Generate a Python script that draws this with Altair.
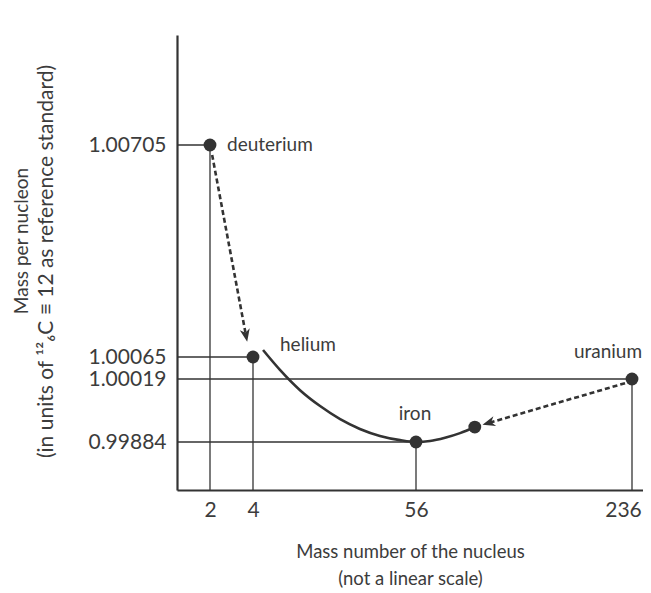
import altair as alt
import pandas as pd

# ---- data ----
names = ["deuterium", "helium", "iron", "", "uranium"]
mass = [2, 4, 56, 105, 236]
mpn = [1.00705, 1.00065, 0.99884, 0.99916, 1.00019]

curve_mass = [7.2, 12.6, 19.0, 25.4, 31.8, 38.1, 44.5, 50.9, 56, 67.7, 80.2, 92.7, 105.2]
curve_mpn = [1.00086, 1.00038, 0.99995, 0.99961, 0.99933, 0.99912, 0.99897,
             0.99888, 0.99884, 0.99886, 0.99893, 0.99903, 0.99916]

arrow_from_mass = [2.1, 230.2]
arrow_from_mpn = [1.00675, 1.00010]
arrow_to_mass = [3.67, 116.8]
arrow_to_mpn = [1.00131, 0.99925]
arrow_angle = [169, 254]

x_ticks = [2, 4, 56, 236]
y_ticks = [1.00705, 1.00065, 1.00019, 0.99884]

# non-linear axes (piecewise scales)
x_domain = [0, 2, 4, 56, 236, 250]
x_range = [0, 33, 76, 239, 455, 466]
y_domain = [0.99781, 0.99884, 1.00019, 1.00065, 1.00705, 1.01037]
y_range = [455, 407, 344, 322, 110, 0]

FONT = "Lato"
INK = "#333333"
TXT = "#3c3c3c"

pts = pd.DataFrame({"name": names, "x": mass, "y": mpn})
pts["x0"] = 0
pts["ybot"] = y_domain[0]
named = pts[pts["name"] != ""]
curve = pd.DataFrame({"x": curve_mass, "y": curve_mpn, "o": range(len(curve_mass))})
arrows = pd.DataFrame({"x": arrow_from_mass, "y": arrow_from_mpn,
                       "x2": arrow_to_mass, "y2": arrow_to_mpn, "angle": arrow_angle})

xscale = alt.Scale(type="linear", domain=x_domain, range=x_range, zero=False, nice=False)
yscale = alt.Scale(type="linear", domain=y_domain, range=y_range, zero=False, nice=False)

xaxis = alt.Axis(values=x_ticks, format="d", ticks=False, grid=False,
                 domainColor=INK, domainWidth=2.2, labelFont=FONT, labelFontSize=21,
                 labelColor=TXT, labelPadding=9, labelFlush=False,
                 labelOffset={"condition": {"test": "datum.value == 236", "value": -9}, "value": 0},
                 title=["Mass number of the nucleus", "(not a linear scale)"],
                 titleFont=FONT, titleFontSize=18.5, titleFontWeight="normal",
                 titleColor=TXT, titlePadding=22, titleLineHeight=27)
yaxis = alt.Axis(values=y_ticks, format=".5f", ticks=False, grid=False,
                 domainColor=INK, domainWidth=2.2, labelFont=FONT, labelFontSize=21,
                 labelColor=TXT, labelPadding=11, labelFlush=False,
                 title="(in units of \u00b9\u00b2\u2086C \u2261 12 as reference standard)",
                 titleFont=FONT, titleFontSize=21, titleFontWeight="normal",
                 titleColor=TXT, titleAngle=270,
                 titleBaseline="middle", titleX=-131, titleY=226)

X = alt.X("x:Q", scale=xscale, axis=xaxis)
Y = alt.Y("y:Q", scale=yscale, axis=yaxis)

hlines = alt.Chart(named).mark_rule(color=INK, strokeWidth=1.3).encode(
    x=X, x2="x0:Q", y=Y)
vlines = alt.Chart(named).mark_rule(color=INK, strokeWidth=1.3).encode(
    x=X, y=Y, y2="ybot:Q")
curve_line = alt.Chart(curve).mark_line(color=INK, strokeWidth=2.6, interpolate="monotone").encode(
    x=X, y=Y, order="o:Q")
arrow_lines = alt.Chart(arrows).mark_rule(color=INK, strokeWidth=2.6, strokeDash=[5, 3]).encode(
    x=X, y=Y, x2="x2:Q", y2="y2:Q")
arrow_heads = alt.Chart(arrows).mark_point(
    shape="M0,-1L0.75,0.9L0,0.35L-0.75,0.9Z", filled=True, color=INK, opacity=1, size=180
).encode(x=alt.X("x2:Q", scale=xscale, axis=xaxis), y=alt.Y("y2:Q", scale=yscale, axis=yaxis),
         angle=alt.Angle("angle:Q", scale=None))
dots = alt.Chart(pts).mark_circle(color=INK, opacity=1, size=165).encode(x=X, y=Y)

ytitle1 = alt.Chart(pd.DataFrame({"t": ["Mass per nucleon"]})).mark_text(
    font=FONT, fontSize=19, color=TXT, angle=270, align="center", baseline="middle"
).encode(x=alt.value(-155), y=alt.value(206), text="t:N")


def label(name, **kw):
    return alt.Chart(pts[pts["name"] == name]).mark_text(
        font=FONT, fontSize=19, color=TXT, **kw).encode(x=X, y=Y, text="name:N")


labels = [
    label("deuterium", align="left", baseline="middle", dx=17, dy=0),
    label("helium", align="left", baseline="middle", dx=27, dy=-12),
    label("iron", align="center", baseline="middle", dx=-1, dy=-28),
    label("uranium", align="center", baseline="middle", dx=-24, dy=-27),
]

chart = alt.layer(hlines, vlines, curve_line, arrow_lines, arrow_heads, dots, ytitle1, *labels).properties(
    width=466, height=455,
    autosize=alt.AutoSizeParams(type="none"),
    padding={"left": 169, "top": 27, "right": 0, "bottom": 100},
    background="white",
).configure_view(stroke=None)

chart.save("out.html", embed_options={"renderer": "svg", "actions": False})
